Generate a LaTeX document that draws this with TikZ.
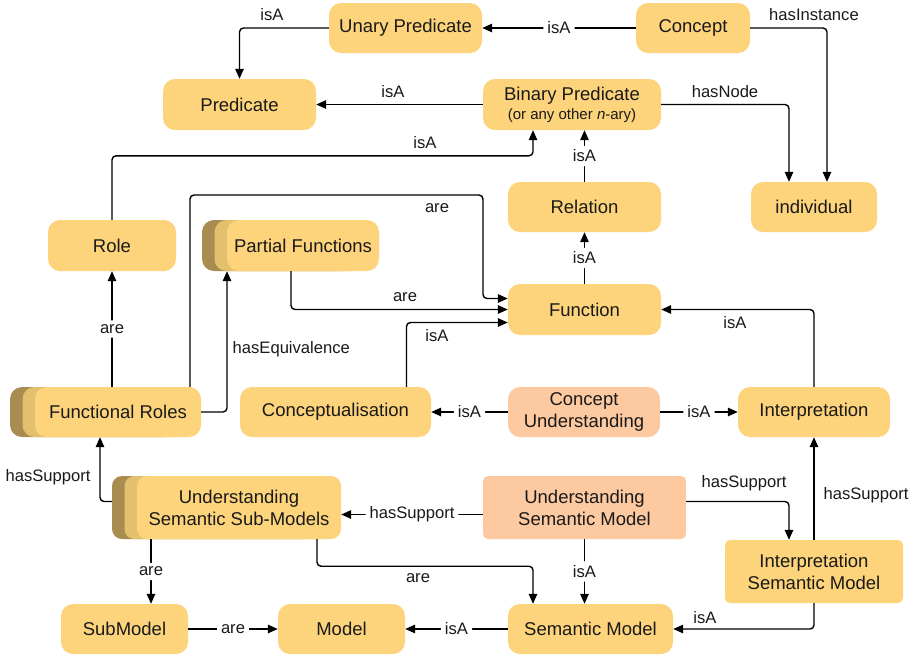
\documentclass[tikz,border=0pt]{standalone}
\usepackage{fontspec}
\setmainfont{Liberation Sans}
\usetikzlibrary{arrows.meta}
\definecolor{ylw}{HTML}{FDD47B}
\definecolor{slm}{HTML}{FDC9A0}
\definecolor{stkA}{HTML}{A98C50}
\definecolor{stkB}{HTML}{E3C06E}
\definecolor{txt}{HTML}{1A1A1A}
\newcommand\boxfont{\fontsize{18.5}{22}\selectfont}
\newcommand\edgefont{\fontsize{16.6}{19}\selectfont}
\begin{document}
\begin{tikzpicture}[x=1pt,y=-1pt,
 box/.style={rounded corners=12pt, fill=ylw, inner sep=0pt, minimum height=50pt, align=center, font=\boxfont, text=txt},
 sbox/.style={box, rounded corners=5pt, minimum height=63pt},
 tall/.style={box, rounded corners=10pt, minimum height=63pt},
 conn/.style={line width=1.4pt, rounded corners=4pt, -{Triangle[length=10pt,width=8.5pt]}},
 lbl/.style={font=\edgefont, text=txt, inner sep=1pt},
 ilbl/.style={lbl, fill=white, inner sep=4pt},
]
\fill[white] (0,0) rectangle (914,657);
\useasboundingbox (0,0) rectangle (914,657);

% nodes
\node[box, minimum width=153pt] (up) at (405.5,28) {Unary Predicate};
\node[box, minimum width=114pt] (con) at (693,28) {Concept};
\node[box, minimum width=153pt, minimum height=51pt] (pred) at (239.5,104.5) {Predicate};
\node[box, minimum width=178pt, minimum height=51pt] (bp) at (572,104.5) {Binary Predicate\\[-3pt]{\fontsize{15}{18}\selectfont (or any other \textit{n}-ary)}};
\node[box, minimum width=126pt] (ind) at (814,207) {individual};
\node[box, minimum width=153pt] (rel) at (584.5,207) {Relation};
\node[box, minimum width=128pt, minimum height=51pt] (role) at (112,245.5) {Role};

\node[box, fill=stkA, minimum width=152pt, minimum height=51pt] (pf3) at (278,245.5) {};
\node[box, fill=stkB, minimum width=152pt, minimum height=51pt] (pf2) at (290.5,245.5) {};
\node[box, minimum width=152pt, minimum height=51pt] (pf) at (303,245.5) {Partial Functions};

\node[box, minimum width=153pt, minimum height=51pt] (fun) at (584.5,309.5) {Function};

\node[box, fill=stkA, minimum width=166pt] (fr3) at (93,412) {};
\node[box, fill=stkB, minimum width=166pt] (fr2) at (105.5,412) {};
\node[box, minimum width=166pt] (fr) at (118,412) {Functional Roles};

\node[box, minimum width=191pt] (conc) at (335.5,412) {Conceptualisation};
\node[box, fill=slm, minimum width=152pt] (cu) at (584,412) {Concept\\Understanding};
\node[box, minimum width=152pt] (interp) at (814,412) {Interpretation};

\node[tall, fill=stkA, minimum width=204pt] (ussm3) at (214,507.5) {};
\node[tall, fill=stkB, minimum width=204pt] (ussm2) at (226.5,507.5) {};
\node[tall, minimum width=204pt] (ussm) at (239,507.5) {Understanding\\Semantic Sub-Models};

\node[sbox, fill=slm, minimum width=203pt] (usm) at (584.5,507.5) {Understanding\\Semantic Model};
\node[sbox, minimum width=178pt] (ism) at (814,571.5) {Interpretation\\Semantic Model};
\node[box, minimum width=127pt] (sub) at (124.5,629) {SubModel};
\node[box, minimum width=127pt] (model) at (341.5,629) {Model};
\node[box, minimum width=165pt] (sm) at (590.5,629) {Semantic Model};

% connectors
\draw[conn] (up.west) -| (pred.north) node[lbl] at (272,15) {isA};
\draw[conn] (con.west) -- (up.east) node[ilbl, midway] {isA};
\draw[conn] (con.east) -| ([xshift=13pt]ind.north) node[lbl] at (814,15) {hasInstance};
\draw[conn] (bp.west) -- (pred.east) node[lbl] at (393,92) {isA};
\draw[conn] (bp.east) -| ([xshift=-25pt]ind.north) node[lbl] at (725,92) {hasNode};
\draw[conn] (rel.north) -- (rel.north |- bp.south) node[ilbl, midway] {isA};
\draw[conn] (fun.north) -- (rel.south) node[ilbl, midway] {isA};
\draw[conn] (role.north) -- ++(0,-64) -| ([xshift=-39pt]bp.south) node[lbl] at (425,143) {isA};
\draw[conn] ([xshift=72pt]fr.north) |- (483,195) |- ([yshift=11pt]fun.west) node[lbl] at (437,208) {are};
\draw[conn] ([xshift=-12pt]pf.south) |- (fun.west) node[lbl] at (405,297) {are};
\draw[conn] ([xshift=71pt]conc.north) |- ([yshift=-13pt]fun.west) node[lbl] at (437,336) {isA};
\draw[conn] (fr.north -| role.south) -- (role.south) node[ilbl, midway] {are};
\draw[conn] (fr.east) -| ([xshift=-76pt]pf.south) node[lbl, anchor=west] at (231,349) {hasEquivalence};
\draw[conn] (cu.west) -- (conc.east) node[ilbl, midway] {isA};
\draw[conn] (cu.east) -- (interp.west) node[ilbl, midway] {isA};
\draw[conn] (interp.north) |- (fun.east) node[lbl] at (735,323) {isA};
\draw[conn] ([yshift=6pt]ussm3.west) -| ([xshift=-18pt]fr.south) node[lbl] at (48,477) {hasSupport};
\draw[conn] ([yshift=-7pt]usm.west) -- ([yshift=-7pt]ussm.east) node[ilbl, midway] {hasSupport};
\draw[conn] ([yshift=6pt]usm.east) -| ([xshift=-25pt]ism.north) node[lbl] at (744,483) {hasSupport};
\draw[conn] (ism.north) -- (interp.south) node[lbl] at (866,495) {hasSupport};
\draw[conn] ([xshift=-88pt]ussm.south) -- ([xshift=26.5pt]sub.north) node[ilbl, midway] {are};
\draw[conn] ([xshift=78pt]ussm.south) -- ++(0,27) -| ([xshift=-57.5pt]sm.north) node[lbl] at (418,578) {are};
\draw[conn] (usm.south) -- (usm.south |- sm.north) node[ilbl, midway] {isA};
\draw[conn] (sub.east) -- (model.west) node[ilbl, midway] {are};
\draw[conn] (sm.west) -- (model.east) node[ilbl, midway] {isA};
\draw[conn] (ism.south) |- (sm.east) node[lbl] at (705,618) {isA};
\end{tikzpicture}
\end{document}
